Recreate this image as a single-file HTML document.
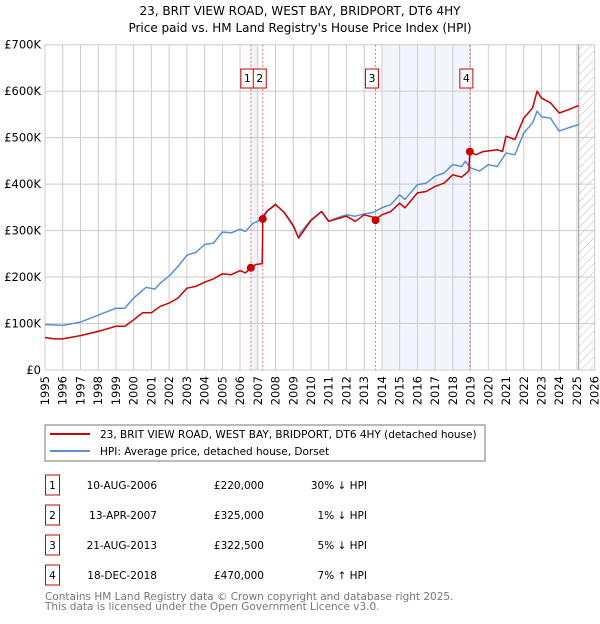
<!DOCTYPE html>
<html><head><meta charset="utf-8"><style>
body{margin:0;background:#fff;font-family:"DejaVu Sans","Liberation Sans",sans-serif;}
svg text{font-family:"DejaVu Sans","Liberation Sans",sans-serif;}
</style></head><body>
<svg id="c" width="600" height="620" viewBox="0 0 600 620" xmlns="http://www.w3.org/2000/svg">
<defs><pattern id="hatch" width="6" height="6" patternUnits="userSpaceOnUse" patternTransform="rotate(45)"><line x1="0" y1="0" x2="0" y2="6" stroke="#bbb" stroke-width="1"/></pattern></defs>
<text x="300" y="15" text-anchor="middle" font-size="12" fill="#000">23, BRIT VIEW ROAD, WEST BAY, BRIDPORT, DT6 4HY</text>
<text x="300" y="32" text-anchor="middle" font-size="12" fill="#000">Price paid vs. HM Land Registry's House Price Index (HPI)</text>
<g id="plot"></g>
<rect x="45" y="425" width="440" height="36" fill="#fff" stroke="#777"/>
<line x1="50" y1="434" x2="90" y2="434" stroke="#cc0000" stroke-width="2"/>
<text x="100" y="438" font-size="10.5">23, BRIT VIEW ROAD, WEST BAY, BRIDPORT, DT6 4HY (detached house)</text>
<line x1="50" y1="451" x2="90" y2="451" stroke="#5b8fd6" stroke-width="2"/>
<text x="100" y="455" font-size="10.5">HPI: Average price, detached house, Dorset</text>
<g id="tbl" font-size="10.5"></g>
<text x="45" y="600" font-size="10.5" fill="#777">Contains HM Land Registry data © Crown copyright and database right 2025.</text>
<text x="45" y="610" font-size="10.5" fill="#777">This data is licensed under the Open Government Licence v3.0.</text>
</svg>
<script>
const yTicks=[0,100,200,300,400,500,600,700];
const yTickLabels=["£0","£100K","£200K","£300K","£400K","£500K","£600K","£700K"];
const years=[1995,1996,1997,1998,1999,2000,2001,2002,2003,2004,2005,2006,2007,2008,2009,2010,2011,2012,2013,2014,2015,2016,2017,2018,2019,2020,2021,2022,2023,2024,2025,2026];
const hpiX=[1995,1996,1997,1998,1999,1999.5,2000,2000.7,2001.2,2001.5,2002,2002.5,2003,2003.5,2004,2004.5,2005,2005.5,2006,2006.3,2006.7,2007,2007.5,2008,2008.5,2009,2009.3,2009.4,2010,2010.6,2011,2011.5,2012,2012.5,2013,2013.5,2014,2014.5,2015,2015.3,2016,2016.5,2017,2017.5,2018,2018.5,2018.7,2019,2019.5,2020,2020.5,2021,2021.5,2022,2022.5,2022.75,2023,2023.5,2024,2024.5,2025.1];
const hpiY=[98,96,103,118,133,133,155,178,174,187,202,223,247,253,270,273,297,295,303,298,315,320,341,357,338,309,284,295,323,341,320,328,334,331,336,339,349,356,377,367,399,402,417,424,442,438,449,435,428,442,438,467,463,510,532,557,545,542,514,521,528];
const priceX=[1995,1995.5,1996,1997,1998,1999,1999.5,2000,2000.5,2001,2001.5,2002,2002.5,2003,2003.5,2004,2004.5,2005,2005.5,2006,2006.3,2006.6,2006.9,2007.25,2007.28,2007.5,2008,2008.5,2009,2009.3,2010,2010.6,2011,2012,2012.5,2013,2013.5,2013.58,2014,2014.5,2015,2015.3,2016,2016.5,2017,2017.5,2018,2018.5,2018.9,2018.96,2019.3,2019.7,2020.5,2020.8,2021,2021.5,2022,2022.5,2022.75,2023,2023.5,2024,2024.5,2025.1];
const priceY=[70,67,67,74,83,94,94,108,123,123,137,144,155,176,180,189,196,207,205,214,209,220,227,229,325,341,356,339,311,284,322,341,320,331,320,334,329,322.5,334,341,359,349,381,384,395,402,420,415,428,470,463,470,474,470,503,496,542,564,600,585,575,553,560,569];
const saleLabels=["1","2","3","4"];
const saleX=[2006.61,2007.28,2013.64,2018.96];
const saleY=[220,325,322.5,470];
const saleDates=["10-AUG-2006","13-APR-2007","21-AUG-2013","18-DEC-2018"];
const salePrices=["£220,000","£325,000","£322,500","£470,000"];
const saleHpi=["30% ↓ HPI","1% ↓ HPI","5% ↓ HPI","7% ↑ HPI"];

const NS="http://www.w3.org/2000/svg";
const X0=45,X1=594.7,Y0=370,Y1=44.7;
const xs=v=>X0+(v-1995)/(2026-1995)*(X1-X0);
const ys=v=>Y0-v/700*(Y0-Y1);
const g=document.getElementById('plot');
function mk(tag,at,parent){const e=document.createElementNS(NS,tag);for(const k in at)e.setAttribute(k,at[k]);(parent||g).appendChild(e);return e;}
let e;
e=mk('rect',{x:xs(2006.61),y:Y1,width:xs(2007.0)-xs(2006.61),height:Y0-Y1,fill:'#eef2fb'});


e=mk('rect',{x:xs(2014.0),y:Y1,width:xs(2018.96)-xs(2014.0),height:Y0-Y1,fill:'#f2f5fd'});


e=mk('rect',{x:xs(2025.1),y:Y1,width:X1-xs(2025.1),height:Y0-Y1,fill:'url(#hatch)'});


years.forEach(y=>{e=mk('line',{x1:xs(y),x2:xs(y),y1:Y1,y2:Y0,stroke:'#ccc','stroke-width':1});


const t=mk('text',{x:0,y:0,'font-size':11.5,'text-anchor':'end',transform:`translate(${xs(y)+4},${Y0+6}) rotate(-90)`});t.textContent=y;

});
yTicks.forEach((v,i)=>{e=mk('line',{x1:X0,x2:X1,y1:ys(v),y2:ys(v),stroke:'#ccc','stroke-width':1});


const t=mk('text',{x:X0-4,y:ys(v)+4,'font-size':11.5,'text-anchor':'end'});t.textContent=yTickLabels[i];

});
e=mk('line',{x1:xs(2025.1),x2:xs(2025.1),y1:Y1,y2:Y0,stroke:'#999','stroke-width':1});


saleX.forEach((sx,i)=>{e=mk('line',{x1:xs(sx),x2:xs(sx),y1:Y1,y2:Y0,stroke:'#f07070','stroke-width':1,'stroke-dasharray':'2,2'});

});
const pts=(X,Y)=>X.map((x,i)=>xs(x).toFixed(1)+','+ys(Y[i]).toFixed(1)).join(' ');
e=mk('polyline',{points:pts(hpiX,hpiY),fill:'none',stroke:'#5b8fd6','stroke-width':1.5,'stroke-linejoin':'round'});


e=mk('polyline',{points:pts(priceX,priceY),fill:'none',stroke:'#cc0000','stroke-width':1.5,'stroke-linejoin':'round'});


saleX.forEach((sx,i)=>{
e=mk('circle',{cx:xs(sx),cy:ys(saleY[i]),r:4,fill:'#cc0000'});


e=mk('rect',{x:i===1?xs(sx)-9.5:xs(sx)-10,y:69,width:13,height:19,fill:'#fff',stroke:'#cc0000'});


const t=mk('text',{x:(i===1?xs(sx)-3:xs(sx)-3.5),y:82,'font-size':11,'text-anchor':'middle'});t.textContent=saleLabels[i];

});
const tb=document.getElementById('tbl');
saleLabels.forEach((l,i)=>{const yb=475+i*30;
e=mk('rect',{x:45.5,y:yb,width:14,height:20,fill:'none',stroke:'#cc0000'},tb);


const cells=[[52.5,l,'middle','table-index'],[157,saleDates[i],'end','table-date'],[264,salePrices[i],'end','table-price'],[367,saleHpi[i],'end','table-hpi-diff']];
cells.forEach(c=>{const t=mk('text',{x:c[0],y:yb+14,'text-anchor':c[2]},tb);t.textContent=c[1];

});});
</script>
</body></html>
